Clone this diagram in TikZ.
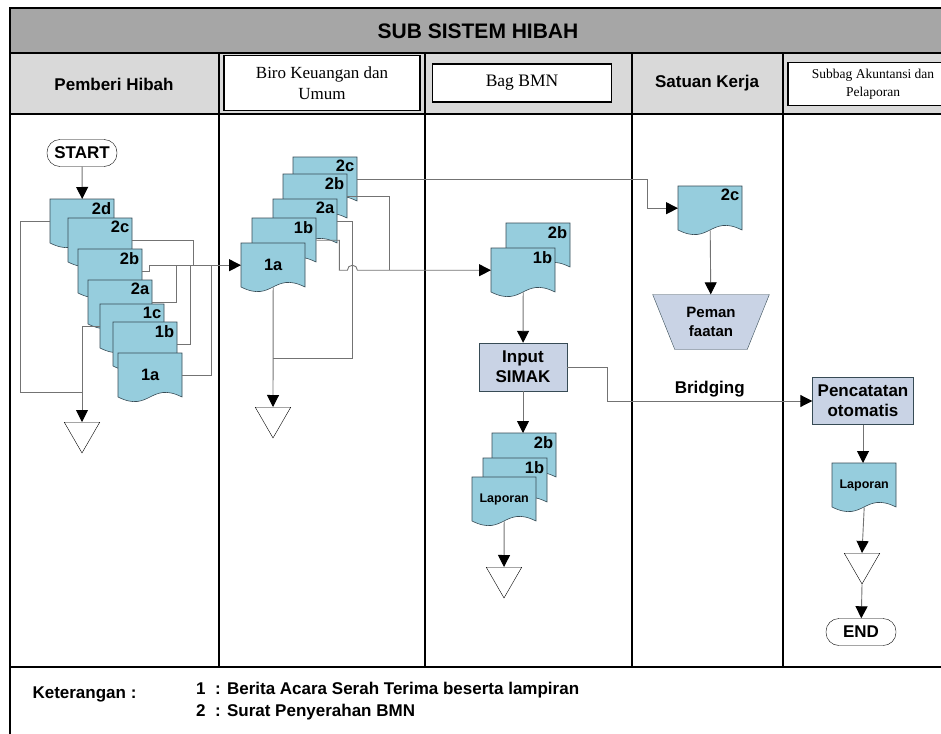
\documentclass[tikz,border=0pt]{standalone}
\usepackage{fontspec}
\setmainfont{Liberation Sans}
\newfontfamily\timesfont{Liberation Serif}
\usetikzlibrary{arrows.meta,shapes.geometric}

\definecolor{docblue}{RGB}{150,205,221}
\definecolor{procblue}{RGB}{201,211,229}
\definecolor{titlegray}{RGB}{166,166,166}
\definecolor{headgray}{RGB}{217,217,217}
\definecolor{flowgray}{RGB}{115,115,115}
\definecolor{docline}{RGB}{55,75,85}

\newcommand{\docu}[5][north east]{%
\begin{scope}[shift={(#3,#4)}]
\draw[docbody] (0,0) -- (64,0) -- (64,44) .. controls (32,28) and (32,60) .. (0,44) -- cycle;
\end{scope}
\node[docbox] (#2) at (#3,#4) {};
\node[doctag, anchor=#1] at (#2.#1) {#5};}

\begin{document}
\begin{tikzpicture}[x=1pt,y=-1pt,
docbody/.style = {draw=docline, fill=docblue, line width=0.6pt},
docbox/.style = {anchor=north west, minimum width=64pt, minimum height=44pt, inner sep=0pt},
doctag/.style = {font=\bfseries\fontsize{16.5}{18}\selectfont, inner sep=3pt},
term/.style = {draw, fill=white, rounded corners=13pt, minimum width=70pt, minimum height=27pt, inner sep=0pt, font=\bfseries\fontsize{17}{19}\selectfont},
proc/.style = {draw=docline, fill=procblue, align=center, inner sep=2pt, font=\bfseries\fontsize{17}{20}\selectfont},
manual/.style = {draw=docline, fill=procblue, trapezium, shape border rotate=180, trapezium left angle=63, trapezium right angle=63, trapezium stretches=true, minimum width=117pt, minimum height=55pt, inner sep=0pt, align=center, font=\bfseries\fontsize{15}{19}\selectfont},
merge/.style = {draw, fill=white, regular polygon, regular polygon sides=3, shape border rotate=180, minimum size=41pt, inner sep=0pt, anchor=north},
flow/.style = {draw=flowgray, line width=0.9pt, -{Triangle[length=12pt,width=12pt,color=black]}},
wire/.style = {draw=flowgray, line width=0.9pt},
head/.style = {font=\bfseries\fontsize{17}{20}\selectfont},
hbox/.style = {draw, line width=1.6pt, fill=white, align=center, inner sep=0pt}]

\useasboundingbox (0,0) rectangle (941,733);
\clip (0,0) rectangle (941,733);

\fill[titlegray] (10,8) rectangle (950,53);
\fill[headgray] (10,53) rectangle (950,114);
\node[font=\bfseries\fontsize{21}{24}\selectfont] (title) at (478,31) {SUB SISTEM HIBAH};
\node[head] (h1) at (114,84) {Pemberi Hibah};
\node[hbox, minimum width=196pt, minimum height=55pt, font=\timesfont\fontsize{17}{21}\selectfont] (h2) at (322,83) {Biro Keuangan dan\\Umum};
\node[hbox, minimum width=179pt, minimum height=38pt, font=\timesfont\fontsize{17.5}{20}\selectfont] (h3) at (522,83) {Bag BMN};
\node[head] (h4) at (707,83) {Satuan Kerja};
\node[hbox, minimum width=170pt, minimum height=43pt, font=\timesfont\fontsize{13.5}{18}\selectfont] (h5) at (873,84) {Subbag Akuntansi dan\\Pelaporan};

\draw[line width=2.2pt] (10,8) rectangle (960,760);
\draw[line width=2.2pt] (10,53) -- (950,53);
\draw[line width=2.2pt] (10,114) -- (950,114);
\draw[line width=2.2pt] (10,667) -- (950,667);
\foreach \lx in {219,425,632,783}
  \draw[line width=2.2pt] (\lx,53) -- (\lx,667);

\node[term] (start) at (82,153) {START};
\docu{d2d}{50}{199}{2d}
\docu{d2c}{68}{218}{2c}
\docu{d2b}{78}{249}{2b}
\docu{d2a}{88}{280}{2a}
\docu{d1c}{100}{304}{1c}
\docu{d1b}{113}{322}{1b}
\docu[center]{d1a}{118}{353}{1a}
\node[merge] (t1) at (82,422) {};
\coordinate (j1) at (82,392);

\docu{b2c}{293}{157}{2c}
\docu{b2b}{283}{174}{2b}
\docu{b2a}{273}{199}{2a}
\docu{b1b}{252}{218}{1b}
\docu[center]{b1a}{241}{243}{1a}
\node[merge] (t2) at (273,407) {};

\docu{m2b}{506}{223}{2b}
\docu{m1b}{491}{248}{1b}
\node[proc, minimum width=88pt, minimum height=48pt] (simak) at (523,367) {Input\\SIMAK};
\docu{r2b}{492}{433}{2b}
\docu{r1b}{483}{458}{1b}
\docu[center]{rlap}{472}{477}{\fontsize{12.5}{14}\selectfont Laporan}
\node[merge] (t3) at (504,567) {};

\docu{s2c}{678}{186}{2c}
\node[manual] (use) at (711,322) {Peman\\faatan};

\node[proc, minimum width=101pt, minimum height=47pt] (penc) at (863,401) {Pencatatan\\otomatis};
\docu[center]{slap}{832}{463}{\fontsize{12.5}{14}\selectfont Laporan}
\node[merge] (t4) at (862,553) {};
\node[term] (fin) at (861,632) {END};

\path[flow] (start) -- (d2d.north);
\path[wire] (d2d.west) -- ++(-30,0) |- (j1);
\path[flow] (d1c.west) -| (t1.north);
\path[wire] (d2c.east) -- ++(61,0) -- ++(0,25);
\path[wire] (d2a.east) -- ++(24,0) -- ++(0,-37);
\path[wire] (d1b.east) -- ++(13,0) -- ++(0,-79);
\path[wire] (d1a.east) -- ++(29,0) -- ++(0,-110);
\path[flow] (d2b.east) -- ++(7,0) |- (b1a.west);

\path[flow] (b1a.south) -- (t2.north);
\path[wire] (b2a.east) -- ++(15,0) -- ++(0,137) -- ++(-79,0);
\path[wire] (b2b.east) -- ++(42,0) -- ++(0,74);
\path[flow] (b1b.east) -- ++(23,0) -- ++(0,30) -- ++(8,0) arc[start angle=180,end angle=360,radius=5] -- (m1b.west);
\path[flow] (b2c.east) -- ++(290,0) |- (s2c.west);

\path[flow] (m1b.south) -- (simak);
\path[flow] (simak.south) -- (simak.south |- r2b.north);
\path[flow] (rlap.south) -- (t3.north);
\path[flow] (simak.east) -- ++(40,0) |- node[pos=0.75, above, head, text=black] {Bridging} (penc.west);

\path[flow] (s2c.south) -- (use);

\path[flow] (penc) -- (penc |- slap.north);
\path[flow] (slap.south) -- (t4.north);
\path[flow] (t4.south) -- (fin);

\node[anchor=west, font=\bfseries\fontsize{17}{20}\selectfont] (ket) at (29,694) {Keterangan :};
\node[anchor=north west, align=left, inner sep=0pt, font=\bfseries\fontsize{17}{22}\selectfont] (keys) at (196,682) {1\ \ : Berita Acara Serah Terima beserta lampiran\\2\ \ : Surat Penyerahan BMN};

\end{tikzpicture}
\end{document}
